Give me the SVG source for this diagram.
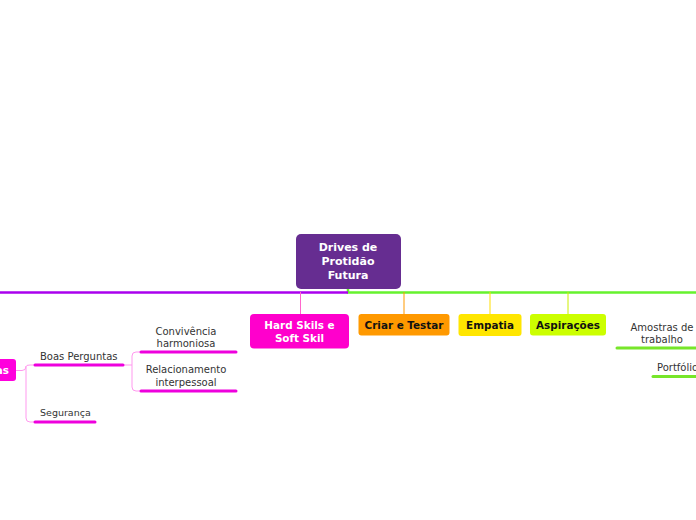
<svg xmlns="http://www.w3.org/2000/svg" width="696" height="520" viewBox="0 0 696 520">
<style>
text{font-family:"DejaVu Sans","Verdana",sans-serif}
.b{font-weight:bold;font-size:10.4px;text-anchor:middle}
.w{fill:#ffffff}
.k{fill:#111111}
.s{font-size:10px;fill:#333333}
.c{text-anchor:middle}
.ln{fill:none;stroke-width:1}
.ul{fill:none;stroke-width:3;stroke-linecap:round}
</style>
<rect width="696" height="520" fill="#ffffff"/>
<g id="connectors">
  <path d="M348 289 V292.5 H696" class="ln" stroke="#66f22e" style="stroke-width:2.5"/>
  <path d="M348 292.5 H0" class="ln" stroke="#aa00ee" style="stroke-width:2.5"/>
  <path d="M300.5 292 V314" class="ln" stroke="#ff66cc"/>
  <path d="M404 292 V314" class="ln" stroke="#ff9900"/>
  <path d="M490 292 V314" class="ln" stroke="#ffdd00"/>
  <path d="M568 292 V314" class="ln" stroke="#ccee00"/>
  <path d="M16 370.5 H22 Q26 370.5 26 366.5 Q26 365 30 365 H35 M26 366 V418 Q26 422 30 422 H35" class="ln" stroke="#ff99ee"/>
  <path d="M123 365 H132 M132 356 V387 Q132 391 136 391 H141 M132 356 Q132 352 136 352 H141" class="ln" stroke="#ff99ee"/>
</g>
<g id="center">
  <rect x="296" y="234" width="105" height="55" rx="5" fill="#662d91"/>
  <text class="b w" x="348" y="251" style="font-size:11px">Drives de</text>
  <text class="b w" x="348" y="265" style="font-size:11px">Protidão</text>
  <text class="b w" x="348" y="279" style="font-size:11px">Futura</text>
</g>
<g id="hard">
  <rect x="250" y="314" width="99" height="34.5" rx="4" fill="#ff00cc"/>
  <text class="b w" x="299.5" y="328.5">Hard Skils e</text>
  <text class="b w" x="299.5" y="341.5">Soft Skil</text>
</g>
<g id="criar">
  <rect x="358.5" y="314" width="91" height="21.5" rx="3" fill="#ff9900"/>
  <text class="b k" x="404" y="328.5">Criar e Testar</text>
</g>
<g id="empatia">
  <rect x="458.5" y="314" width="63" height="22" rx="3" fill="#ffe600"/>
  <text class="b k" x="490" y="328.5">Empatia</text>
</g>
<g id="aspiracoes">
  <rect x="530" y="314" width="76" height="21.5" rx="3" fill="#ccff00"/>
  <text class="b k" x="568" y="328.5">Aspirações</text>
</g>
<g id="left-node">
  <rect x="-60" y="359" width="76" height="22" rx="3" fill="#ff00dd"/>
  <text class="b w" x="9" y="374" style="text-anchor:end">as</text>
</g>
<g id="boas">
  <text class="s" x="40" y="360">Boas Perguntas</text>
  <path d="M35 365 H123" class="ul" stroke="#ee00dd"/>
</g>
<g id="seguranca">
  <text class="s" x="40" y="416" style="font-size:9.5px">Segurança</text>
  <path d="M35 422 H95" class="ul" stroke="#ee00dd"/>
</g>
<g id="convivencia">
  <text class="s c" x="186" y="335">Convivência</text>
  <text class="s c" x="186" y="347">harmoniosa</text>
  <path d="M141 352 H236" class="ul" stroke="#ee00dd"/>
</g>
<g id="relacionamento">
  <text class="s c" x="186" y="373">Relacionamento</text>
  <text class="s c" x="186" y="386">interpessoal</text>
  <path d="M141 391 H236" class="ul" stroke="#ee00dd"/>
</g>
<g id="amostras">
  <text class="s c" x="662" y="331">Amostras de</text>
  <text class="s c" x="662" y="343">trabalho</text>
  <path d="M617 348 H698" class="ul" stroke="#77e62a"/>
</g>
<g id="portfolio">
  <text class="s" x="657" y="371">Portfólio</text>
  <path d="M653 376.5 H698" class="ul" stroke="#77e62a"/>
</g>
</svg>
